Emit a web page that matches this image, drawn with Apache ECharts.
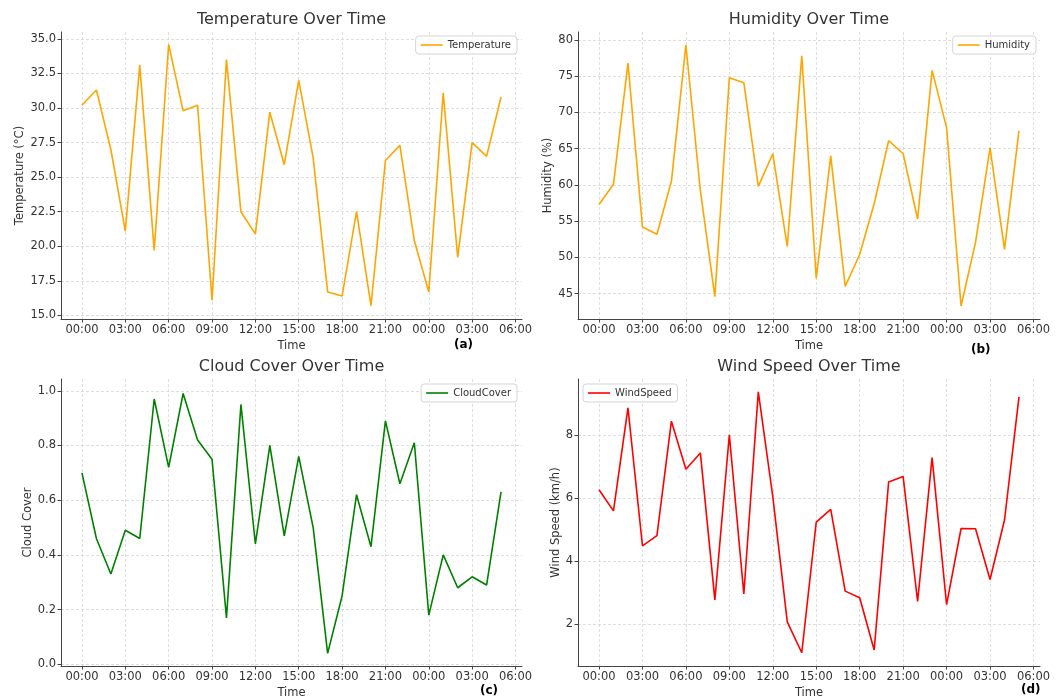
<!DOCTYPE html>
<html>
<head>
<meta charset="utf-8">
<script src="https://cdn.jsdelivr.net/npm/echarts@6/dist/echarts.min.js"></script>
<style>html,body{margin:0;padding:0;background:#fff}#c{width:1063px;height:700px}</style>
</head>
<body>
<div id="c"></div>
<script>
// hourly timestamps (index = hours from start)
const times = ['00:00','01:00','02:00','03:00','04:00','05:00','06:00','07:00','08:00','09:00',
  '10:00','11:00','12:00','13:00','14:00','15:00','16:00','17:00','18:00','19:00',
  '20:00','21:00','22:00','23:00','00:00','01:00','02:00','03:00','04:00','05:00'];
const tickHours = [0,3,6,9,12,15,18,21,24,27,30];
const tickLabels = ['00:00','03:00','06:00','09:00','12:00','15:00','18:00','21:00','00:00','03:00','06:00'];

const temperature = [30.2,31.3,27.0,21.1,33.1,19.7,34.6,29.8,30.2,16.1,
  33.5,22.5,20.9,29.7,25.9,32.0,26.4,16.7,16.4,22.5,
  15.7,26.2,27.3,20.4,16.7,31.1,19.2,27.5,26.5,30.8];
const humidity = [57.3,60.1,76.8,54.2,53.2,60.5,79.3,59.2,44.6,74.8,
  74.1,59.8,64.3,51.5,77.8,47.1,64.0,46.0,50.4,57.4,
  66.1,64.3,55.3,75.8,67.9,43.3,52.1,65.1,51.1,67.5];
const cloudCover = [0.70,0.46,0.33,0.49,0.46,0.97,0.72,0.99,0.82,0.75,
  0.17,0.95,0.44,0.80,0.47,0.76,0.50,0.04,0.25,0.62,
  0.43,0.89,0.66,0.81,0.18,0.40,0.28,0.32,0.29,0.63];
const windSpeed = [6.27,5.60,8.87,4.49,4.81,8.45,6.92,7.44,2.77,8.02,
  2.96,9.38,6.05,2.07,1.09,5.24,5.65,3.05,2.84,1.18,
  6.52,6.69,2.72,7.29,2.62,5.04,5.03,3.42,5.31,9.22];

const tempTicks = [15,17.5,20,22.5,25,27.5,30,32.5,35];
const humTicks = [45,50,55,60,65,70,75,80];
const cloudTicks = [0,0.2,0.4,0.6,0.8,1.0];
const windTicks = [2,4,6,8];

const panels = [
  {title:'Temperature Over Time', name:'Temperature', yName:'Temperature (°C)', data:temperature, color:'#FFA500',
   yTicks:tempTicks, yMin:14.74, yMax:35.5, dec:1, grid:{left:61,top:32,width:461,height:287}, nameGap:34,
   legend:{right:546,top:36}, tag:'(a)', tagPos:[464,346]},
  {title:'Humidity Over Time', name:'Humidity', yName:'Humidity (%)', data:humidity, color:'#FFA500',
   yTicks:humTicks, yMin:41.5, yMax:81.1, dec:0, grid:{left:578,top:32,width:462,height:287}, nameGap:22,
   legend:{right:27,top:36}, tag:'(b)', tagPos:[981,351]},
  {title:'Cloud Cover Over Time', name:'CloudCover', yName:'Cloud Cover', data:cloudCover, color:'#008000',
   yTicks:cloudTicks, yMin:-0.006, yMax:1.043, dec:1, grid:{left:61,top:379,width:461,height:288}, nameGap:27,
   legend:{right:546,top:384}, tag:'(c)', tagPos:[490,692]},
  {title:'Wind Speed Over Time', name:'WindSpeed', yName:'Wind Speed (km/h)', data:windSpeed, color:'#FF0000',
   yTicks:windTicks, yMin:0.67, yMax:9.79, dec:0, grid:{left:578,top:379,width:462,height:288}, nameGap:15,
   legend:{left:583,top:384}, tag:'(d)', tagPos:[1031,691]}
];

const FONT = 'DejaVu Sans';
const option = {
  backgroundColor:'#fff',
  animation:false,
  textStyle:{fontFamily:FONT},
  title:[], grid:[], xAxis:[], yAxis:[], series:[], legend:[], graphic:[]
};

panels.forEach((p,i)=>{
  option.grid.push(Object.assign({containLabel:false}, p.grid));
  option.title.push({text:p.title, left:p.grid.left + p.grid.width/2, top:p.grid.top-20, textAlign:'center', padding:0,
    textStyle:{fontFamily:FONT,fontSize:16,fontWeight:'normal',color:'#333'}});
  option.xAxis.push({type:'value', gridIndex:i, min:-1.45, max:30.45,
    name:'Time', nameLocation:'middle', nameGap:21,
    nameTextStyle:{fontFamily:FONT,fontSize:11.5,color:'#333'},
    axisLine:{show:true,onZero:false,lineStyle:{color:'#444',width:1}},
    axisTick:{show:true,inside:false,length:3.5,customValues:tickHours,lineStyle:{color:'#444'}},
    axisLabel:{customValues:tickHours,fontFamily:FONT,fontSize:11.5,color:'#333',margin:5,
      formatter:(v)=>{const k=tickHours.indexOf(Math.round(v));return k>=0?tickLabels[k]:'';}},
    splitLine:{show:true,lineStyle:{color:'#d6d6d6',type:[3,2],width:0.8}}
  });
  option.yAxis.push({type:'value', gridIndex:i, min:p.yMin, max:p.yMax,
    name:p.yName, nameLocation:'middle', nameGap:p.nameGap, nameRotate:90,
    nameTextStyle:{fontFamily:FONT,fontSize:11.5,color:'#333'},
    axisLine:{show:true,onZero:false,lineStyle:{color:'#444',width:1}},
    axisTick:{show:true,inside:false,length:3.5,customValues:p.yTicks,lineStyle:{color:'#444'}},
    axisLabel:{customValues:p.yTicks,fontFamily:FONT,fontSize:11.5,color:'#333',margin:5,
      formatter:(v)=>Number(v).toFixed(p.dec)},
    splitLine:{show:true,lineStyle:{color:'#d6d6d6',type:[3,2],width:0.8}}
  });
  option.series.push({type:'line', name:p.name, xAxisIndex:i, yAxisIndex:i,
    data:p.data.map((v,k)=>[k,v]), symbol:'none', showSymbol:false,
    lineStyle:{color:p.color,width:1.6}, itemStyle:{color:p.color}});
  option.legend.push(Object.assign({data:[{name:p.name, icon:'path://M0,0 L22,0 L22,1.6 L0,1.6 Z'}],
    orient:'vertical', itemWidth:22, itemHeight:1.6, itemGap:0,
    padding:[4,6,4,5], borderColor:'#d5d5d5', borderWidth:1, borderRadius:3, backgroundColor:'rgba(255,255,255,0.85)',
    textStyle:{fontFamily:FONT,fontSize:10,color:'#333'}, selectedMode:false}, p.legend));
  option.graphic.push({type:'text', left:p.tagPos[0]-10, top:p.tagPos[1]-7,
    style:{text:p.tag, font:'bold 12px "DejaVu Sans"', fill:'#000'}});
});

const chart = echarts.init(document.getElementById('c'), null, {renderer:'canvas'});
chart.setOption(option);
</script>
</body>
</html>
